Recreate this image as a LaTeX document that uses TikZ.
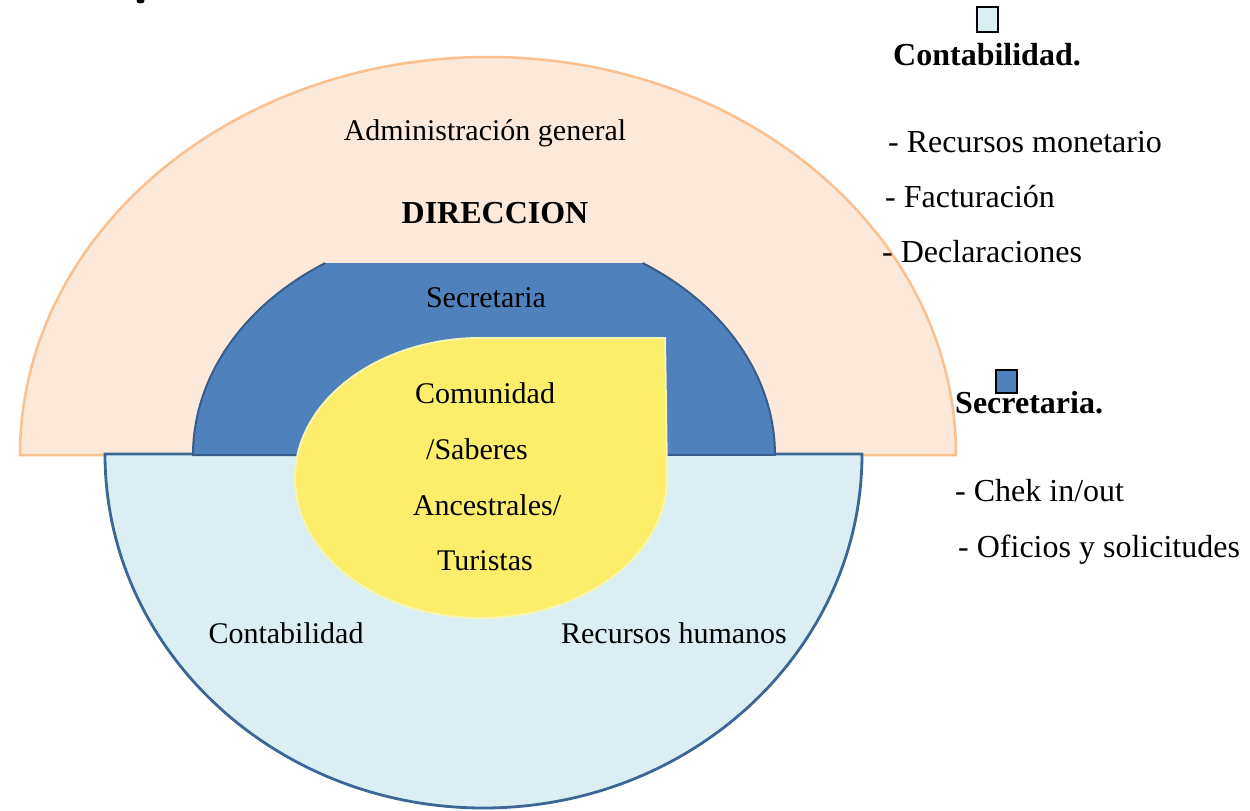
\documentclass[tikz,border=0pt]{standalone}
\usepackage{fontspec}
\setmainfont{Liberation Serif}
\definecolor{orfill}{HTML}{FDE9D9}
\definecolor{ordraw}{HTML}{FAC08F}
\definecolor{lbfill}{HTML}{DBEEF4}
\definecolor{lbdraw}{HTML}{3C6696}
\definecolor{bfill}{HTML}{4F81BD}
\definecolor{bdraw}{HTML}{385D8A}
\definecolor{yfill}{HTML}{FCEE6A}
\definecolor{ydraw}{HTML}{F6F6B0}
\tikzset{
  inner/.style={font=\fontsize{30}{36}\selectfont, inner sep=0pt, anchor=base},
  side/.style={font=\fontsize{32}{38}\selectfont, inner sep=0pt, anchor=base west},
  sidebold/.style={font=\fontsize{32}{38}\selectfont\bfseries, inner sep=0pt, anchor=base west},
  legendbox/.style={draw=black, line width=2pt}
}
\begin{document}
\begin{tikzpicture}[x=1pt,y=1pt]
\useasboundingbox (0,0) rectangle (1250,-811);
% orange half (Administracion general / Direccion)
\filldraw[fill=orfill, draw=ordraw, line width=2.5pt]
  (20,-455) arc[start angle=180, end angle=0, x radius=468, y radius=398] -- cycle;
% light blue lower half
\filldraw[fill=lbfill, draw=lbdraw, line width=2.8pt]
  (105,-454) arc[start angle=180, end angle=360, x radius=378.5, y radius=354] -- cycle;
% blue band (Secretaria)
\fill[bfill]
  (193,-455) arc[start angle=180, end angle=123.03, x radius=291, y radius=229]
  -- (642.6,-263) arc[start angle=56.97, end angle=0, x radius=291, y radius=229] -- cycle;
\draw[bdraw, line width=2pt]
  (642.6,-263) arc[start angle=56.97, end angle=0, x radius=291, y radius=229]
  -- (193,-455) arc[start angle=180, end angle=123.03, x radius=291, y radius=229];
% yellow teardrop
\filldraw[fill=yfill, draw=ydraw, line width=2pt]
  (481,-338) -- (665,-338) -- (667,-478)
  arc[start angle=0, end angle=-270, x radius=186, y radius=140] -- cycle;
% labels inside
\node[inner] (adm) at (485,-140) {Administración general};
\node[inner, font=\fontsize{32}{38}\selectfont\bfseries] (dir) at (495,-223) {DIRECCION};
\node[inner] (sec) at (486,-307) {Secretaria};
\node[inner] (c1) at (485,-403) {Comunidad};
\node[inner] (c2) at (477,-459) {/Saberes};
\node[inner] (c3) at (487,-515) {Ancestrales/};
\node[inner] (c4) at (485,-570) {Turistas};
\node[inner] (cont) at (286,-643) {Contabilidad};
\node[inner] (rh) at (674,-643) {Recursos humanos};
% fragment of a cropped glyph at the top edge
\fill[black] (140.5,-1) ellipse[x radius=4, y radius=2.5];
% legend
\filldraw[legendbox, fill=lbfill] (977,-7) rectangle (998,-32);
\node[sidebold] (lc) at (893,-65) {Contabilidad.};
\node[side] (l1) at (888,-152) {- Recursos monetario};
\node[side] (l2) at (885,-207) {- Facturación};
\node[side] (l3) at (882,-262) {- Declaraciones};
\filldraw[legendbox, fill=bfill] (996,-370) rectangle (1017,-393);
\node[sidebold] (ls) at (955,-413) {Secretaria.};
\node[side] (l4) at (955,-501) {- Chek in/out};
\node[side] (l5) at (958,-557) {- Oficios y solicitudes};
\end{tikzpicture}
\end{document}
